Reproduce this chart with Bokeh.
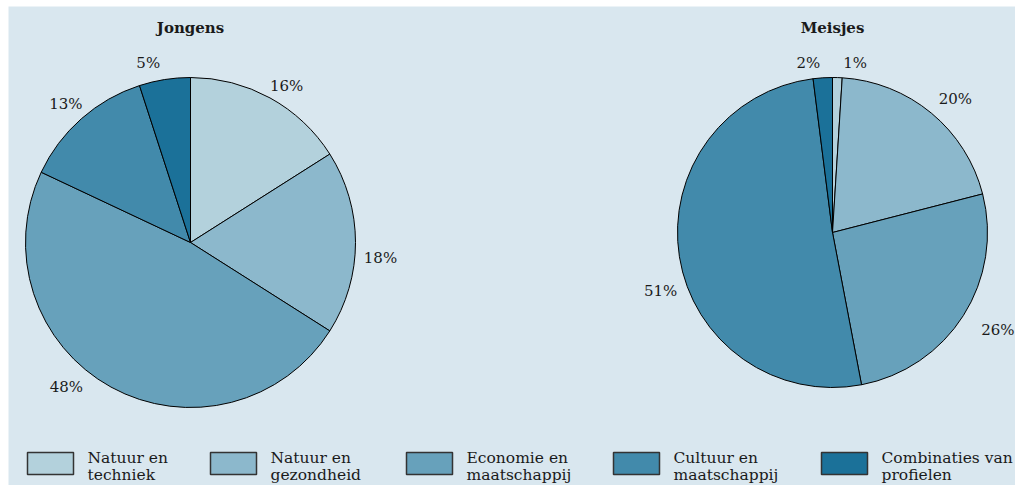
import numpy as np
from bokeh.plotting import figure
from bokeh.models import Range1d, ColumnDataSource
from bokeh.core.properties import value
from bokeh.embed import file_html
from bokeh.resources import INLINE

# ---- data ----
categories = ["Natuur en techniek", "Natuur en gezondheid", "Economie en maatschappij",
              "Cultuur en maatschappij", "Combinaties van profielen"]
legend_line1 = ["Natuur en", "Natuur en", "Economie en", "Cultuur en", "Combinaties van"]
legend_line2 = ["techniek", "gezondheid", "maatschappij", "maatschappij", "profielen"]
jongens = [16, 18, 48, 13, 5]
meisjes = [1, 20, 26, 51, 2]
titles = ["Jongens", "Meisjes"]
colors = ["#b3d1dc", "#8cb8cc", "#67a1bb", "#428aab", "#1b7199"]

# ---- layout ----
W, H = 1015, 485
ML, MT = 8, 6
BG = "#d9e7ef"
FONT = "DejaVu Serif"
TXT = "#1a1a1a"
pie_layout = [(190, 242, 165), (832, 232, 155)]   # centre x, centre y (from top), radius
label_gap = 22
# small per-label nudges (px, screen) to mimic the original label placement
label_nudge = [
    [(6, 7), (3, 15), (-34, -19), (-1, 2), (-13, 5)],
    [(17, 7), (10, 3), (16, 3), (3, 31), (-13, 7)],
]
legend_box_x = [27, 210, 406, 613, 821]
legend_y = 463
title_y = 27

p = figure(width=W, height=H, x_range=Range1d(ML, W), y_range=Range1d(0, H - MT),
           output_backend="svg", toolbar_location=None,
           min_border_left=ML, min_border_top=MT, min_border_right=0, min_border_bottom=0,
           x_axis_location=None, y_axis_location=None,
           background_fill_color=BG, border_fill_color="white")
p.grid.visible = False
p.outline_line_color = None


def Y(fy):
    return H - fy


for k, (vals, title, (cx, cy, r)) in enumerate(zip([jongens, meisjes], titles, pie_layout)):
    v = np.array(vals, dtype=float)
    frac = v / v.sum()
    cum = np.concatenate([[0.0], np.cumsum(frac)])
    start = np.pi / 2 - cum[1:] * 2 * np.pi
    end = np.pi / 2 - cum[:-1] * 2 * np.pi
    src = ColumnDataSource(dict(start=start, end=end, color=colors))
    p.wedge(x=cx, y=Y(cy), radius=r, start_angle="start", end_angle="end",
            fill_color="color", line_color="black", line_width=1, source=src)

    mid = (cum[:-1] + cum[1:]) / 2 * 2 * np.pi
    R = r + label_gap
    nd = np.array(label_nudge[k], dtype=float)
    lx = cx + R * np.sin(mid) + nd[:, 0]
    ly = Y(cy) + R * np.cos(mid) - nd[:, 1]
    labels = [f"{int(x)}%" for x in vals]
    s = ColumnDataSource(dict(x=lx, y=ly, t=labels))
    p.text(x="x", y="y", text="t", source=s, text_align="center", text_baseline="middle",
           text_font=value(FONT), text_font_size="15px", text_color=TXT)

    p.text(x=[cx], y=[Y(title_y)], text=[title], text_align="center", text_baseline="middle",
           text_font=value(FONT), text_font_size="15px", text_font_style="bold", text_color=TXT)

# legend
bx = np.array(legend_box_x, dtype=float)
p.rect(x=bx + 23, y=[Y(legend_y)] * 5, width=46, height=22, fill_color=colors,
       line_color="#333333", line_width=1.5)
p.text(x=bx + 60, y=[Y(legend_y - 6)] * 5, text=legend_line1, text_align="left",
       text_baseline="alphabetic", text_font=value(FONT), text_font_size="15.5px", text_color=TXT)
p.text(x=bx + 60, y=[Y(legend_y + 11)] * 5, text=legend_line2, text_align="left",
       text_baseline="alphabetic", text_font=value(FONT), text_font_size="15.5px", text_color=TXT)

open("out.html", "w").write(file_html(p, INLINE))
